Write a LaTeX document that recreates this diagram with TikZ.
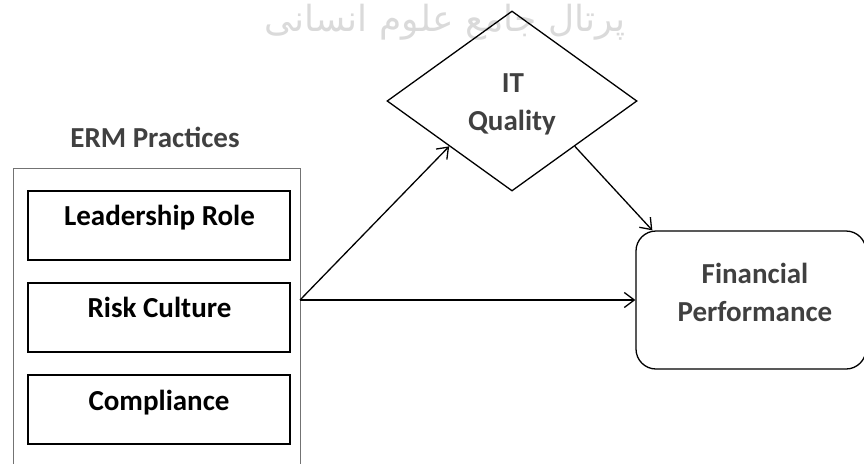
\documentclass[tikz,border=0pt]{standalone}
\usepackage{fontspec}
\setmainfont{Carlito}
\newfontfamily\persfont[Script=Arabic]{DejaVu Sans}
\TeXXeTstate=1
\usetikzlibrary{arrows.meta,shapes.geometric}
\definecolor{txtgray}{HTML}{404040}
\definecolor{wmgray}{HTML}{DADADA}
\begin{document}
\begin{tikzpicture}[x=1pt,y=-1pt,
  lbl/.style={anchor=base, inner sep=0pt, font=\fontsize{29}{36}\selectfont\bfseries},
  graylbl/.style={lbl, text=txtgray},
  inbox/.style={draw, line width=1.2pt, minimum width=262pt, minimum height=69pt, inner sep=0pt},
  link/.style={line width=1.3pt, -{Straight Barb[length=10pt,width=15pt,line width=1.3pt]}}
]
\useasboundingbox (0,0) rectangle (864,463);
% watermark
\node[inner sep=0pt, text=wmgray, font=\persfont\fontsize{36}{40}\selectfont] (wm) at (445,22) {\beginR پرتال جامع علوم انسانی\endR};
% ERM group
\node[graylbl] (ermt) at (155,147) {ERM Practices};
\draw[line width=1pt, black!55] (13,490) -- (13,168) -- (300,168) -- (300,490);
\node[inbox] (lead) at (159,225.5) {};
\node[inbox] (risk) at (159,317.5) {};
\node[inbox] (comp) at (159,409.5) {};
\node[lbl] (leadt) at (159.5,225) {Leadership Role};
\node[lbl] (riskt) at (159.5,317) {Risk Culture};
\node[lbl] (compt) at (159,410) {Compliance};
\coordinate (src) at (300,300);
% IT quality diamond
\node[diamond, draw, line width=1.3pt, minimum width=250pt, minimum height=180pt, inner sep=0pt] (itq) at (512,101) {};
\node[graylbl] (itt) at (513,92) {IT};
\node[graylbl] (qt) at (512,130) {Quality};
% financial performance
\node[draw, line width=1.3pt, rounded corners=20pt, minimum width=230pt, minimum height=138pt, inner sep=0pt] (fp) at (751,300) {};
\node[graylbl] (fpa) at (755,283) {Financial};
\node[graylbl] (fpb) at (755,321) {Performance};
% connectors
\draw[link] (src) -- (itq.south west);
\draw[link] (src) -- (fp.west);
\draw[link] (itq.south east) -- ([xshift=17pt]fp.north west);
\end{tikzpicture}
\end{document}
